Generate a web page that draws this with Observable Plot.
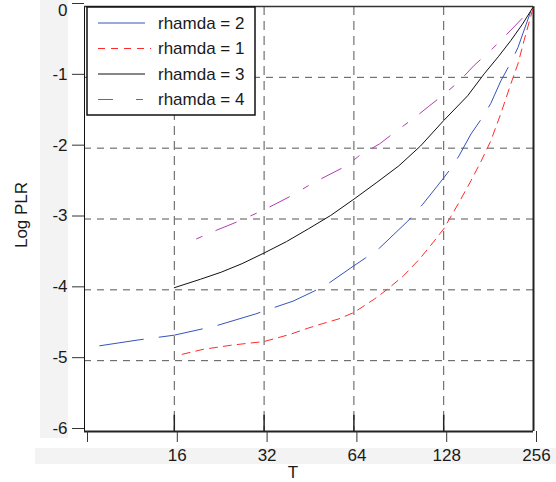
<!DOCTYPE html>
<html>
<head>
<meta charset="utf-8">
<script src="https://cdn.jsdelivr.net/npm/d3@7"></script>
<script src="https://cdn.jsdelivr.net/npm/@observablehq/plot@0.6"></script>
<style>
  html, body { margin: 0; padding: 0; background: #fff; }
  #wrap { position: relative; width: 556px; height: 482px; overflow: hidden; }
  .bg { position: absolute; background: #f3f3f3; }
  #chart { position: absolute; left: 0; top: 0; }
</style>
</head>
<body>
<div id="wrap">
  <div class="bg" style="left:40px; top:0px; width:28px; height:438px;"></div>
  <div class="bg" style="left:35px; top:448px; width:521px; height:16px;"></div>
  <div id="chart"></div>
</div>
<script>
// ---- data ----
const xTicks = [16, 32, 64, 128, 256];
const yTicks = [0, -1, -2, -3, -4, -5, -6];
const seriesNames = ["rhamda = 2", "rhamda = 1", "rhamda = 3", "rhamda = 4"];

// rhamda = 2
const T2 = [9, 12, 16, 22, 30, 34, 40, 47, 53, 64, 70, 78, 97, 109, 128, 135, 144, 158, 173, 184, 199, 215, 227, 251, 256];
const V2 = [-4.79, -4.71, -4.64, -4.51, -4.34, -4.26, -4.16, -4.02, -3.90, -3.66, -3.55, -3.41, -3.03, -2.79, -2.42, -2.29, -2.11, -1.80, -1.56, -1.37, -1.05, -0.79, -0.58, -0.06, 0];
// rhamda = 1
const T1 = [17, 20, 25, 32, 39, 45, 50, 57, 64, 75, 83, 94, 107, 119, 128, 143, 158, 171, 184, 199, 215, 227, 238, 256];
const V1 = [-4.91, -4.84, -4.78, -4.73, -4.63, -4.54, -4.48, -4.41, -4.32, -4.13, -3.99, -3.80, -3.55, -3.31, -3.14, -2.79, -2.46, -2.18, -1.90, -1.51, -1.09, -0.81, -0.48, 0];
// rhamda = 3
const T3 = [16, 19.6, 23, 27, 32, 38, 45, 53.5, 64, 76, 90.5, 107, 128, 154, 175, 195, 215, 235, 256];
const V3 = [-3.97, -3.85, -3.75, -3.63, -3.48, -3.32, -3.14, -2.95, -2.72, -2.49, -2.25, -1.97, -1.61, -1.26, -0.95, -0.71, -0.48, -0.25, 0];
// rhamda = 4
const T4 = [19, 22.4, 26, 30.5, 34.5, 40, 45, 52, 61, 66.5, 78, 90, 103, 114, 130, 144, 162, 184, 202, 227, 256];
const V4 = [-3.28, -3.15, -3.04, -2.91, -2.80, -2.66, -2.53, -2.39, -2.24, -2.11, -1.94, -1.74, -1.56, -1.41, -1.22, -1.06, -0.83, -0.62, -0.45, -0.23, 0];

const seriesT = [T2, T1, T3, T4];
const seriesV = [V2, V1, V3, V4];

// ---- styles ----
const seriesColors = ["#3553bd", "#ff2b2b", "#111111", "#b23db2"];
const plotDash = ["44,16", "8,6", null, "6,15,22,16"];
const legendDash = [null, "7,6", null, "15,23,7,40"];
const FONT = "'Liberation Sans', Arial, sans-serif";

const rows = seriesNames.map((name, i) =>
  seriesT[i].map((t, j) => ({series: name, T: t, v: seriesV[i][j]})));

const xMin = xTicks[0] / 2, xMax = xTicks[xTicks.length - 1];
const yMin = d3.min(yTicks), yMax = d3.max(yTicks);

const lineMarks = rows.map((data, i) =>
  Plot.line(data, {x: "T", y: "v", stroke: seriesColors[i], strokeWidth: 1,
    strokeDasharray: plotDash[i] || undefined}));

const plot = Plot.plot({
  width: 556,
  height: 482,
  marginLeft: 84,
  marginRight: 23,
  marginTop: 6,
  marginBottom: 51,
  style: {fontFamily: FONT, fontSize: "17px", background: "transparent", color: "#1a1a1a"},
  x: {type: "log", base: 2, domain: [xMin, xMax]},
  y: {domain: [yMin, yMax]},
  marks: [
    // dashed grid
    Plot.ruleY(yTicks.filter(d => d !== yMin && d !== yMax),
      {stroke: "#555", strokeWidth: 1, strokeDasharray: "7,6"}),
    Plot.ruleX(xTicks.filter(d => d !== xMax),
      {stroke: "#555", strokeWidth: 1, strokeDasharray: "9,6"}),
    // inner ticks at the bottom
    Plot.ruleX(xTicks.filter(d => d !== xMax),
      {y1: yMin, y2: yMin + 0.23, stroke: "#222", strokeWidth: 1.5}),
    // frame
    Plot.ruleX([xMin], {stroke: "#111", strokeWidth: 1}),
    Plot.ruleX([xMax], {stroke: "#222", strokeWidth: 2}),
    Plot.ruleY([yMax], {stroke: "#333", strokeWidth: 1.5}),
    Plot.ruleY([yMin], {stroke: "#222", strokeWidth: 2.2}),
    // series
    ...lineMarks,
    // axes
    Plot.axisY(yTicks.filter(d => d !== 0), {tickSize: 12, tickPadding: 5, label: null,
      tickFormat: d => String(d), dy: -3, stroke: "#333"}),
    Plot.axisY([0], {tickSize: 12, tickPadding: 5, label: null, lineAnchor: "top",
      tickFormat: d => String(d), dy: -3, stroke: "#333"}),
    Plot.axisX([xMin, ...xTicks], {tickSize: 11, tickPadding: 6, label: null,
      tickFormat: d => d === xMin ? "" : String(d), dx: 3, stroke: "#333"}),
  ]
});

const svg = d3.select(plot);
svg.selectAll("[aria-label='y-axis tick label'] text, [aria-label='x-axis tick label'] text")
  .attr("fill", "#1a1a1a");

// axis titles
svg.append("text")
  .attr("transform", "translate(27,215) rotate(-90)")
  .attr("text-anchor", "middle")
  .attr("font-family", FONT).attr("font-size", 17).attr("fill", "#1a1a1a")
  .text("Log PLR");
svg.append("text")
  .attr("x", 293).attr("y", 478)
  .attr("text-anchor", "middle")
  .attr("font-family", FONT).attr("font-size", 17).attr("fill", "#1a1a1a")
  .text("T");

// legend
const lg = svg.append("g").attr("transform", "translate(87,7)");
lg.append("rect").attr("x", 0).attr("y", 0).attr("width", 168).attr("height", 108)
  .attr("fill", "#fff").attr("stroke", "#111").attr("stroke-width", 1.5);
seriesNames.forEach((name, i) => {
  const y = 16 + i * 25.5;
  lg.append("line").attr("x1", 11).attr("x2", 58 + (i === 1 ? 6 : 0)).attr("y1", y).attr("y2", y)
    .attr("stroke", seriesColors[i]).attr("stroke-width", 1)
    .attr("stroke-dasharray", legendDash[i]);
  lg.append("text").attr("x", 71).attr("y", y).attr("dy", "0.35em")
    .attr("text-anchor", "start")
    .attr("font-family", FONT).attr("font-size", 17).attr("fill", "#1a1a1a")
    .text(name);
});

document.getElementById("chart").appendChild(plot);
</script>
</body>
</html>
